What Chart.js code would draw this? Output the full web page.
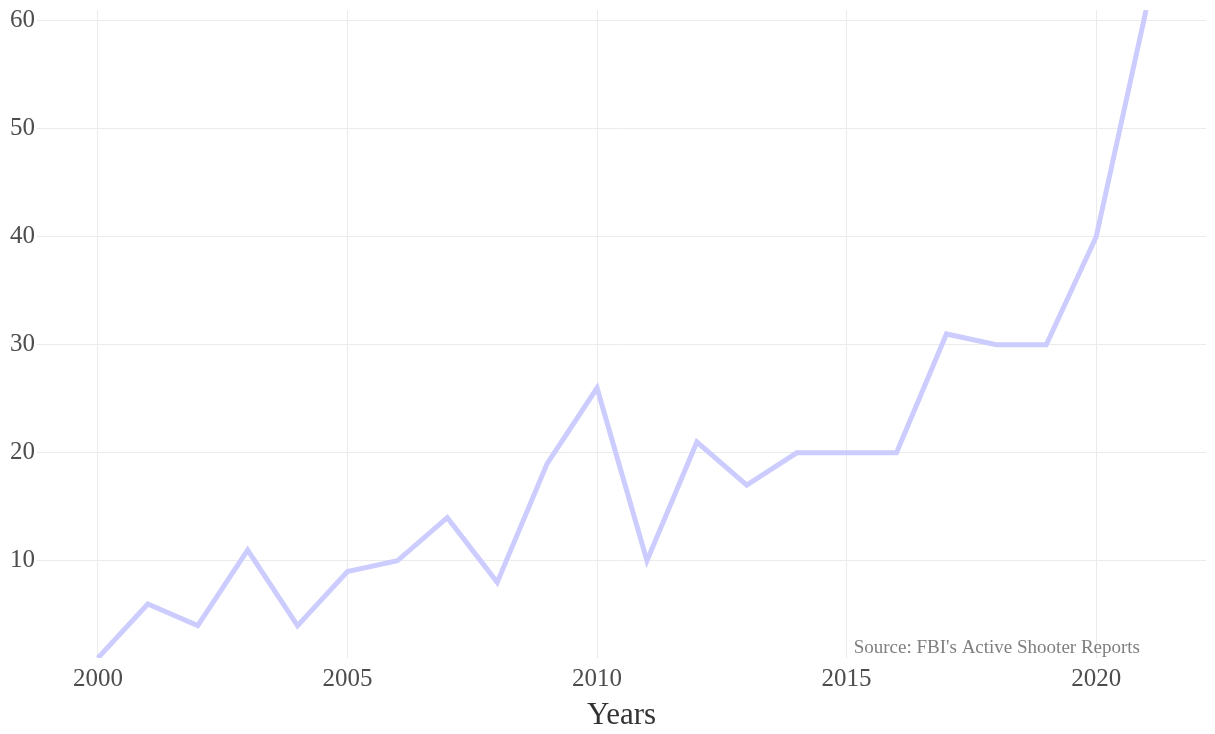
<!DOCTYPE html>
<html>
<head>
<meta charset="utf-8">
<script src="https://cdn.jsdelivr.net/npm/chart.js@4"></script>
<style>
  html, body { margin: 0; padding: 0; background: #fff; }
  #wrap { width: 1215px; height: 734px; }
</style>
</head>
<body>
<div id="wrap"><canvas id="chart" width="1215" height="734"></canvas></div>
<script>
'use strict'
// datos
const years = [2000, 2001, 2002, 2003, 2004, 2005, 2006, 2007, 2008, 2009, 2010,
  2011, 2012, 2013, 2014, 2015, 2016, 2017, 2018, 2019, 2020, 2021]
const incidents = [1, 6, 4, 11, 4, 9, 10, 14, 8, 19, 26,
  10, 21, 17, 20, 20, 20, 31, 30, 30, 40, 61]
const xTicks = [2000, 2005, 2010, 2015, 2020]
const yTicks = [10, 20, 30, 40, 50, 60]
const sourceText = "Source: FBI's Active Shooter Reports"

const serif = '"Liberation Serif", "Times New Roman", serif'

// texto de la fuente abajo a la derecha
const sourcePlugin = {
  id: 'sourceNote',
  afterDraw(chart) {
    const { ctx, chartArea } = chart
    ctx.save()
    ctx.font = '19px ' + serif
    ctx.fillStyle = '#7f7f7f'
    ctx.textAlign = 'right'
    ctx.textBaseline = 'alphabetic'
    ctx.fillText(sourceText, chartArea.right - 66, chartArea.bottom - 5)
    ctx.restore()
  }
}

const ctx = document.getElementById('chart').getContext('2d')
const myChart = new Chart(ctx, {
  type: 'line',
  data: {
    datasets: [{
      data: years.map((y, i) => ({ x: y, y: incidents[i] })),
      borderColor: '#ccccff',
      borderWidth: 5,
      pointRadius: 0,
      tension: 0,
      fill: false
    }]
  },
  options: {
    responsive: false,
    animation: false,
    layout: { padding: { top: 10, right: 9, left: 0, bottom: 0 } },
    plugins: { legend: { display: false }, tooltip: { enabled: false } },
    scales: {
      x: {
        type: 'linear',
        min: 1998.78,
        max: 2022.2,
        border: { display: false },
        grid: { color: '#ebebeb', lineWidth: 1, drawTicks: false },
        afterBuildTicks: s => { s.ticks = xTicks.map(v => ({ value: v })) },
        afterFit: s => { s.height = 76 },
        ticks: {
          padding: 6,
          color: '#4d4d4d',
          font: { family: serif, size: 25 },
          callback: v => String(v),
          maxRotation: 0
        },
        title: {
          display: true,
          text: 'Years',
          color: '#333333',
          font: { family: serif, size: 31 },
          padding: { top: 2, bottom: 0 }
        }
      },
      y: {
        min: 1,
        max: 61,
        border: { display: false },
        grid: { color: '#ebebeb', lineWidth: 1, drawTicks: false },
        afterBuildTicks: s => { s.ticks = yTicks.map(v => ({ value: v })) },
        afterFit: s => {
          s.width = 37
          // sin relleno extra arriba por la etiqueta 60
          s.paddingTop = 0
          s.paddingBottom = 0
        },
        ticks: {
          padding: 2,
          color: '#4d4d4d',
          font: { family: serif, size: 25 },
          callback: v => String(v)
        }
      }
    }
  },
  plugins: [sourcePlugin]
})
</script>
</body>
</html>
